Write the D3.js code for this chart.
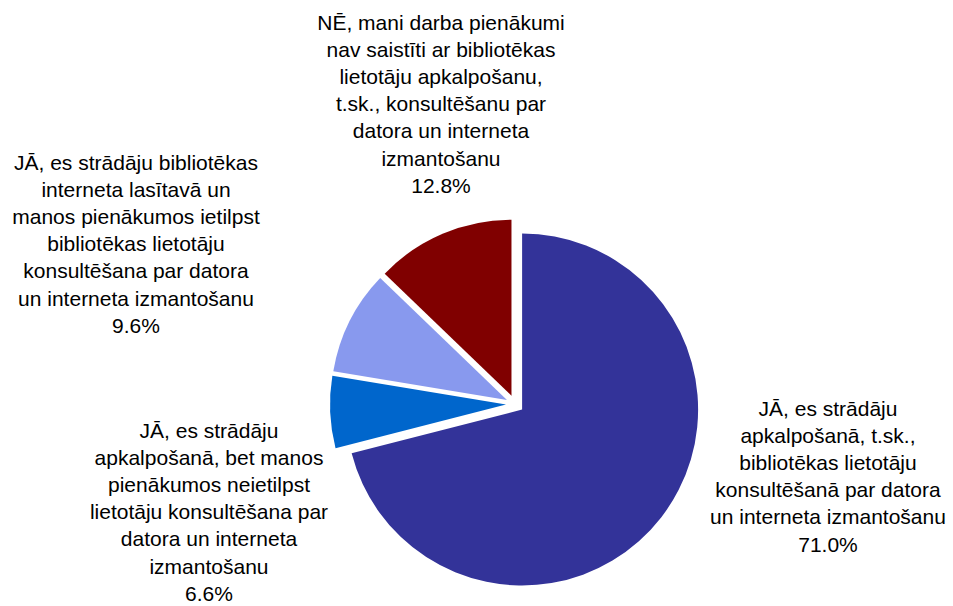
<!DOCTYPE html>
<html lang="lv">
<head>
    <meta charset="UTF-8">
    <title>Pie chart</title>
    <style>
        body { margin: 0; background: #fff; }
        .label {
            font-family: "Liberation Sans", Arial, sans-serif;
            font-size: 21px;
            fill: #000;
            text-anchor: middle;
        }
    </style>
</head>
<body>
    <svg id="chart"></svg>
    <script src="https://d3js.org/d3.v7.min.js"></script>
    <script>
        // data
        const categories = [
            "JĀ, es strādāju apkalpošanā, t.sk., bibliotēkas lietotāju konsultēšanā par datora un interneta izmantošanu",
            "JĀ, es strādāju apkalpošanā, bet manos pienākumos neietilpst lietotāju konsultēšana par datora un interneta izmantošanu",
            "JĀ, es strādāju bibliotēkas interneta lasītavā un manos pienākumos ietilpst bibliotēkas lietotāju konsultēšana par datora un interneta izmantošanu",
            "NĒ, mani darba pienākumi nav saistīti ar bibliotēkas lietotāju apkalpošanu, t.sk., konsultēšanu par datora un interneta izmantošanu"
        ];
        const values = [71.0, 6.6, 9.6, 12.8];
        const colors = ["#333399", "#0066cc", "#8899ee", "#800000"];

        // label lines as wrapped in the original
        const labelLines = [
            ["JĀ, es strādāju", "apkalpošanā, t.sk.,", "bibliotēkas lietotāju", "konsultēšanā par datora", "un interneta izmantošanu"],
            ["JĀ, es strādāju", "apkalpošanā, bet manos", "pienākumos neietilpst", "lietotāju konsultēšana par", "datora un interneta", "izmantošanu"],
            ["JĀ, es strādāju bibliotēkas", "interneta lasītavā un", "manos pienākumos ietilpst", "bibliotēkas lietotāju", "konsultēšana par datora", "un interneta izmantošanu"],
            ["NĒ, mani darba pienākumi", "nav saistīti ar bibliotēkas", "lietotāju apkalpošanu,", "t.sk., konsultēšanu par", "datora un interneta", "izmantošanu"]
        ];

        const width = 953, height = 606;
        const cx = 515, cy = 404, radius = 176, explode = 9;
        const lineH = 27.1;
        // label block anchors (centre x, first baseline y)
        const labelPos = [[828, 416], [209, 438], [136, 170], [441, 30]];

        const svg = d3.select("#chart")
            .attr("width", width)
            .attr("height", height);

        const pie = d3.pie().sort(null).value(d => d)
            .startAngle(0).endAngle(2 * Math.PI);
        const arcs = pie(values);
        const arc = d3.arc().innerRadius(0).outerRadius(radius);

        const g = svg.append("g").attr("transform", `translate(${cx},${cy})`);

        g.selectAll("path")
            .data(arcs)
            .enter()
            .append("path")
            .attr("d", arc)
            .attr("fill", (d, i) => colors[i])
            .attr("transform", d => {
                const a = (d.startAngle + d.endAngle) / 2;
                return `translate(${explode * Math.sin(a)},${-explode * Math.cos(a)})`;
            });

        const labels = svg.selectAll(".label")
            .data(arcs)
            .enter()
            .append("text")
            .attr("class", "label")
            .attr("x", (d, i) => labelPos[i][0])
            .attr("y", (d, i) => labelPos[i][1]);

        labels.each(function (d, i) {
            const t = d3.select(this);
            const lines = labelLines[i].concat([d3.format(".1f")(d.data) + "%"]);
            lines.forEach((line, j) => {
                t.append("tspan")
                    .attr("x", labelPos[i][0])
                    .attr("y", labelPos[i][1] + j * lineH)
                    .text(line);
            });
        });
    </script>
</body>
</html>
